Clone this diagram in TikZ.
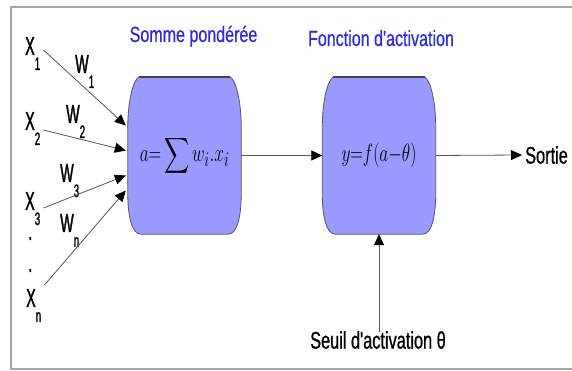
\documentclass[tikz,border=0pt]{standalone}
\usepackage{amsmath}
\usepackage{graphicx}
\usepackage{fontspec}
\setmainfont{Liberation Sans}
\newfontfamily\titrefont[FakeStretch=0.73, FakeBold=0.6]{Liberation Sans}
\newfontfamily\etiqfont[FakeStretch=0.68, FakeBold=0.8]{Liberation Sans}
\newfontfamily\varfont[FakeStretch=0.55, FakeBold=1.2]{Liberation Sans}
\usetikzlibrary{arrows.meta, positioning, calc, backgrounds}
\definecolor{TitreBleu}{HTML}{2B2BDD}
\definecolor{BoiteFond}{HTML}{9999FF}
\definecolor{BoiteTrait}{HTML}{55555F}
\definecolor{Cadre}{HTML}{A6A6A6}
\definecolor{Fleche}{HTML}{555555}

% indice placé bas, comme dans la figure
\newcommand{\indice}[1]{\raisebox{-15pt}{\fontsize{18}{18}\selectfont #1}}

% contour en tonneau autour d'un bloc nommé
\newcommand{\tonneau}[1]{%
  \begin{scope}[on background layer]
  \filldraw[fill=BoiteFond, draw=BoiteTrait, line width=0.8pt]
    ($(#1.north west)+(11,0)$)
    .. controls ($(#1.north west)+(5,-4)$) and ($(#1.north west)+(0,-25)$) .. ($(#1.north west)+(0,-50)$)
    -- ($(#1.south west)+(0,40)$)
    .. controls ($(#1.south west)+(0,18)$) and ($(#1.south west)+(4,0)$) .. ($(#1.south west)+(13,0)$)
    -- ($(#1.south east)+(-13,0)$)
    .. controls ($(#1.south east)+(-4,0)$) and ($(#1.south east)+(0,18)$) .. ($(#1.south east)+(0,40)$)
    -- ($(#1.north east)+(0,-50)$)
    .. controls ($(#1.north east)+(0,-25)$) and ($(#1.north east)+(-5,-4)$) .. ($(#1.north east)+(-11,0)$)
    -- cycle;
  \draw[BoiteTrait!80!black, line width=1.6pt] ($(#1.north west)+(11,0)$) -- ($(#1.north east)+(-11,0)$);
  \end{scope}}

\begin{document}
\begin{tikzpicture}[x=1pt, y=1pt,
  boite/.style={minimum width=113pt, minimum height=157pt, inner sep=0pt},
  titre/.style={font=\titrefont\fontsize{22}{22}\selectfont, text=TitreBleu, anchor=base},
  entree/.style={font=\varfont\fontsize{26}{26}\selectfont, anchor=base west, inner sep=0pt},
  etiq/.style={font=\etiqfont\fontsize{24}{24}\selectfont},
  fleche/.style={draw=Fleche, line width=0.8pt, -{Triangle[length=11pt, width=10pt, color=black]}}]

  \useasboundingbox (0,0) rectangle (572,371);
  % cadre ouvert à droite
  \draw[Cadre, line width=2pt] (572,364) -- (11,364) -- (11,2) -- (572,2);

  % les deux blocs
  \node[boite] (somme) at (184.5,215.5)
    {\scalebox{0.7}[1]{\fontsize{32}{32}\selectfont$\displaystyle a{=}\sum w_i.x_i$}};
  \node[boite] (activ) at (379,215.5)
    {\scalebox{0.7}[1]{\fontsize{30}{30}\selectfont$y{=}f(a{-}\theta)$}};
  \tonneau{somme}
  \tonneau{activ}

  \node[titre] (tsomme) at (193.5,329) {Somme pondérée};
  \node[titre] (tactiv) at (381,325) {Fonction d'activation};

  % entrées
  \foreach \n/\x/\y in {1/25/316, 2/25/241, 3/25/161, n/26/64}
    \node[entree] (x\n) at (\x,\y) {X\indice{\n}};
  \node[entree] (pt1) at (28,131) {.};
  \node[entree] (pt2) at (28,99) {.};

  % poids
  \foreach \n/\x/\y in {1/75/298, 2/66/248, 3/60/189, n/60/139}
    \node[entree] (w\n) at (\x,\y) {W\indice{\n}};

  % connexions
  \foreach \n/\dy/\ey in {1/5/30, 2/0/5, 3/2/-20, n/22/-35}
    \draw[fleche] ([shift={(3pt,\dy pt)}]x\n.base east) -- ([shift={(-2pt,\ey pt)}]somme.west);
  \draw[fleche] (somme.east) -- (activ.west);
  \node[etiq, anchor=west, inner sep=3pt] (sortie) at (522,216) {Sortie};
  \draw[fleche] (activ.east) -- (sortie.west);
  \node[etiq] (seuil) at (378,31) {Seuil d'activation θ};
  \draw[fleche] ([yshift=-4pt]activ.south |- seuil.north) -- (activ.south);
\end{tikzpicture}
\end{document}
